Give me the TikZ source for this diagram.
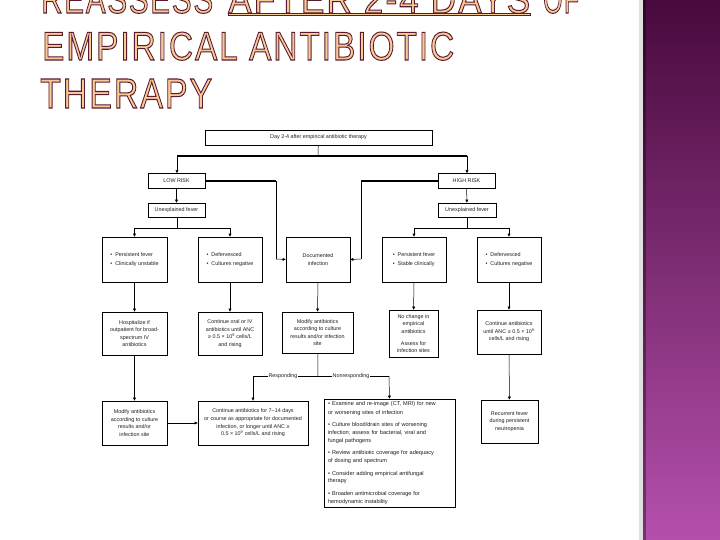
\documentclass[tikz,border=0pt]{standalone}
\usepackage{fontspec}
\setmainfont{Liberation Sans}
\newfontfamily\titlefont[LetterSpace=6]{Liberation Sans}
\usetikzlibrary{arrows.meta}
\definecolor{peach}{RGB}{248,202,150}
\definecolor{maroon}{RGB}{90,26,48}
\definecolor{barTop}{RGB}{72,10,60}
\definecolor{barMid}{RGB}{128,50,118}
\definecolor{barBot}{RGB}{180,80,172}
\definecolor{ink}{RGB}{30,30,30}
\newcommand{\hollow}[1]{\special{pdf:literal direct 2 Tr 0.9 w 0.353 0.102 0.188 RG}#1\special{pdf:literal direct 0 Tr}}
\newcommand{\ttl}[3]{\resizebox{#1}{#2}{\titlefont\fontsize{36}{36}\selectfont\hollow{#3}}}
\newcommand{\itm}[1]{{\hangindent=6pt\hangafter=1\noindent\textbullet\hspace{2.2pt}#1\par}\vspace{4.6pt}}

\begin{document}
\begin{tikzpicture}[x=1pt,y=-1pt,
  box/.style={draw=black,line width=0.6pt,fill=white,inner sep=1pt,align=center,
    font=\fontsize{5.4}{7.6}\selectfont,text=ink},
  ln/.style={line width=0.5pt},
  thk/.style={line width=1.3pt},
  arr/.style={-{Triangle[length=3pt,width=2.8pt]},line width=0.5pt},
  title/.style={inner sep=0pt,anchor=base west,text=peach},
  lbl/.style={fill=white,inner sep=0.6pt,font=\fontsize{5.4}{6}\selectfont,text=ink}]
  \useasboundingbox (0,0) rectangle (720,540);
  \fill[white] (0,0) rectangle (720,540);

  % side bar
  \shade[top color=barTop,middle color=barMid,bottom color=barBot] (643,0) rectangle (720,540);
  \fill[black!12] (639,0) rectangle (643,540);
  \fill[black,opacity=0.35] (643,0) rectangle (646,540);

  % title
  \node[title] (t1a) at (41,13)  {\ttl{172pt}{28pt}{REASSESS}};
  \node[title] (t1b) at (228,13) {\ttl{302pt}{28pt}{AFTER 2-4 DAYS}};
  \node[title] (t1c) at (543,13) {\ttl{36pt}{28pt}{OF}};
  \node[title] (t2)  at (42,60)  {\ttl{412pt}{28pt}{EMPIRICAL ANTIBIOTIC}};
  \node[title] (t3)  at (40,108) {\ttl{172pt}{29pt}{THERAPY}};
  \filldraw[fill=peach,draw=maroon,line width=0.6pt]
    ([yshift=-0.5pt]t1b.base west) rectangle ([yshift=-2.5pt]t1b.base east);

  % boxes
  \node[box,minimum width=227pt,minimum height=15pt] (top) at (318.5,137.5)
    {Day 2-4 after empirical antibiotic therapy};
  \node[box,minimum width=57pt,minimum height=15pt] (low)  at (176.5,181) {LOW RISK};
  \node[box,minimum width=57pt,minimum height=15pt] (high) at (466.5,181) {HIGH RISK};
  \node[box,minimum width=57pt,minimum height=14pt] (lfev) at (176.5,210) {Unexplained fever};
  \node[box,minimum width=58pt,minimum height=14pt] (hfev) at (467,210) {Unexplained fever};

  \node[box,minimum width=65pt,minimum height=45pt,align=left] (lowA) at (134.5,259.5)
    {\textbullet\ \ Persistent fever\\[1.4pt]\textbullet\ \ Clinically unstable};
  \node[box,minimum width=64pt,minimum height=45pt,align=left] (lowB) at (230,259.5)
    {\textbullet\ \ Defervesced\\[1.4pt]\textbullet\ \ Cultures negative};
  \node[box,minimum width=64pt,minimum height=45pt] (doc) at (318,259.5)
    {Documented\\infection};
  \node[box,minimum width=64pt,minimum height=45pt,align=left] (highA) at (414,259.5)
    {\textbullet\ \ Persistent fever\\[1.4pt]\textbullet\ \ Stable clinically};
  \node[box,minimum width=64pt,minimum height=45pt,align=left] (highB) at (509,259.5)
    {\textbullet\ \ Defervesced\\[1.4pt]\textbullet\ \ Cultures negative};

  \node[box,minimum width=65pt,minimum height=43pt] (hosp) at (134.5,333.5)
    {Hospitalize if\\outpatient for broad-\\spectrum IV\\antibiotics};
  \node[box,minimum width=64pt,minimum height=43pt] (oral) at (230,333.5)
    {Continue oral or IV\\antibiotics until ANC\\≥ 0.5 × 10\textsuperscript{9} cells/L\\and rising};
  \node[box,minimum width=71pt,minimum height=41pt] (modA) at (317.5,332.5)
    {Modify antibiotics\\according to culture\\results and/or infection\\site};
  \node[box,minimum width=49pt,minimum height=47pt] (same) at (413.5,333.5)
    {No change in\\empirical\\antibiotics\\[4pt]Assess for\\infection sites};
  \node[box,minimum width=64pt,minimum height=44pt] (cont) at (509,332)
    {Continue antibiotics\\until ANC ≥ 0.5 × 10\textsuperscript{9}\\cells/L and rising};

  \node[box,minimum width=65pt,minimum height=44pt] (modB) at (134.5,423)
    {Modify antibiotics\\according to culture\\results and/or\\infection site};
  \node[box,minimum width=110pt,minimum height=44pt] (days) at (253,423)
    {Continue antibiotics for 7–14 days\\or course as appropriate for documented\\infection, or longer until ANC ≥\\0.5 × 10\textsuperscript{9} cells/L and rising};
  \node[box,minimum width=131pt,minimum height=108pt,text width=123pt,align=left,
    font=\fontsize{5.6}{7.8}\selectfont] (nonr) at (389.5,453)
    {\vspace{1pt}%
     \itm{Examine and re-image (CT, MRI) for new\\or worsening sites of infection}%
     \itm{Culture blood/drain sites of worsening\\infection; assess for bacterial, viral and\\fungal pathogens}%
     \itm{Review antibiotic coverage for adequacy\\of dosing and spectrum}%
     \itm{Consider adding empirical antifungal\\therapy}%
     {\hangindent=6pt\hangafter=1\noindent\textbullet\hspace{2.2pt}Broaden antimicrobial coverage for\\hemodynamic instability\par}};
  \node[box,minimum width=57pt,minimum height=43pt] (recur) at (509.5,421.5)
    {Recurrent fever\\during persistent\\neutropenia};

  % junctions
  \coordinate (sp)  at (318,156);
  \coordinate (spL) at (177,156);
  \coordinate (spR) at (467,156);
  \coordinate (lk)  at (276,181);
  \coordinate (lb)  at (276,259);
  \coordinate (hk)  at (361,181);
  \coordinate (hb)  at (361,259);
  \coordinate (lf)  at (177,228);
  \coordinate (lfL) at (134.5,228);
  \coordinate (lfR) at (230,228);
  \coordinate (hf)  at (467,228);
  \coordinate (hfL) at (414,228);
  \coordinate (hfR) at (509,228);
  \coordinate (rs)  at (318,376);
  \coordinate (rsL) at (253,376);
  \coordinate (rsR) at (389,376);

  % connectors
  \draw[ln] (top) -- (sp);
  \draw[thk] (spL) -- (spR);
  \draw[arr] (spL) -- (spL |- low.north);
  \draw[arr] (spR) -- (spR |- high.north);
  \draw[arr] (low) -- (lfev);
  \draw[arr] (high) -- (hfev);
  \draw[thk] (low.east) -- (lk);
  \draw[ln] (lk) -- (lb);
  \draw[arr] (lb) -- (doc.west);
  \draw[thk] (high.west) -- (hk);
  \draw[ln] (hk) -- (hb);
  \draw[arr] (hb) -- (doc.east);
  \draw[ln] (lfev.south -| lf) -- (lf);
  \draw[ln] (lfL) -- (lfR);
  \draw[arr] (lfL) -- (lowA.north);
  \draw[arr] (lfR) -- (lowB.north);
  \draw[ln] (hfev.south -| hf) -- (hf);
  \draw[ln] (hfL) -- (hfR);
  \draw[arr] (hfL) -- (highA.north);
  \draw[arr] (hfR) -- (highB.north);
  \draw[arr] (lowA) -- (hosp);
  \draw[arr] (lowB) -- (oral);
  \draw[arr] (doc) -- (modA);
  \draw[arr] (highA) -- (same);
  \draw[arr] (highB) -- (cont);
  \draw[arr] (hosp) -- (modB);
  \draw[arr] (modB) -- (days);
  \draw[arr] (cont) -- (recur);
  \draw[ln] (modA) -- (rs);
  \draw[ln] (rsL) -- (rsR);
  \draw[arr] (rsL) -- (days.north);
  \draw[arr] (rsR) -- (nonr.north);
  \node[lbl] (resp) at (283,376) {Responding};
  \node[lbl] (nonresp) at (351,376) {Nonresponding};
\end{tikzpicture}
\end{document}
